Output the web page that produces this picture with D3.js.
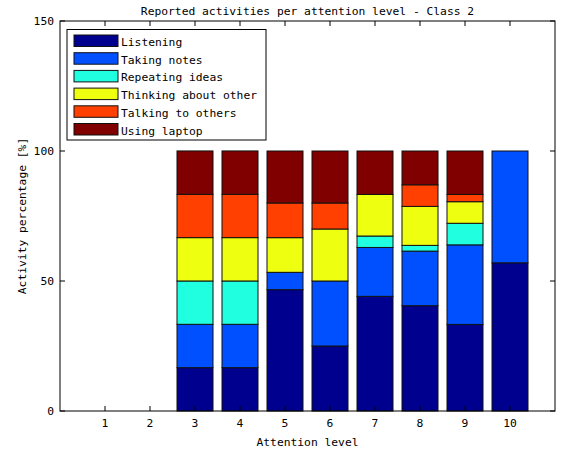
<!DOCTYPE html>
<html>
<head>
<meta charset="utf-8">
<script src="https://cdn.jsdelivr.net/npm/d3@7"></script>
<style>
  html, body { margin: 0; padding: 0; background: #fff; }
  text { font-family: "DejaVu Sans Mono", "Liberation Mono", monospace; font-size: 11.3px; fill: #000; }
</style>
</head>
<body>
<svg id="chart" width="565" height="455"></svg>
<script>
const categories = [1, 2, 3, 4, 5, 6, 7, 8, 9, 10];
const seriesNames = ["Listening", "Taking notes", "Repeating ideas", "Thinking about other", "Talking to others", "Using laptop"];
const listening   = [0, 0, 16.67, 16.67, 46.67, 25, 44.1, 40.5, 33.3, 57];
const takingNotes = [0, 0, 16.67, 16.67, 6.67, 25, 18.8, 21, 30.6, 43];
const repeating   = [0, 0, 16.67, 16.67, 0, 0, 4.4, 2.2, 8.3, 0];
const thinking    = [0, 0, 16.67, 16.67, 13.33, 20, 16.0, 15, 8.3, 0];
const talking     = [0, 0, 16.67, 16.67, 13.33, 10, 0, 8.3, 2.8, 0];
const laptop      = [0, 0, 16.67, 16.67, 20, 20, 16.7, 13, 16.7, 0];
const colors = ["#00008f", "#0050ff", "#20ffdf", "#efff10", "#ff4000", "#800000"];
const yTicks = [0, 50, 100, 150];
const title = "Reported activities per attention level - Class 2";
const xLabel = "Attention level";
const yLabel = "Activity percentage [%]";

const series = [listening, takingNotes, repeating, thinking, talking, laptop];
const table = categories.map((c, i) => {
  const row = { cat: c };
  seriesNames.forEach((n, k) => row[n] = series[k][i]);
  return row;
});

const svg = d3.select("#chart");
const L = 60, R = 555, T = 21, B = 411;
const x = d3.scaleLinear().domain([0, 11]).range([L, R]);
const y = d3.scaleLinear().domain([0, 150]).range([B, T]);
const barW = (x(0.8) - x(0));

svg.append("rect").attr("x", 0).attr("y", 0).attr("width", 565).attr("height", 455).attr("fill", "#fff");

const stack = d3.stack().keys(seriesNames)(table);
stack.forEach((layer, k) => {
  svg.append("g").selectAll("rect")
    .data(layer.filter(d => d[1] - d[0] > 0))
    .join("rect")
    .attr("x", d => x(d.data.cat) - barW / 2)
    .attr("y", d => y(d[1]))
    .attr("width", barW)
    .attr("height", d => y(d[0]) - y(d[1]))
    .attr("fill", colors[k])
    .attr("stroke", "#111")
    .attr("stroke-width", 1);
});

// axes box
svg.append("rect").attr("x", L).attr("y", T).attr("width", R - L).attr("height", B - T)
  .attr("fill", "none").attr("stroke", "#000").attr("stroke-width", 1);

const tl = 5;
// x ticks (bottom, top) inward
const gx = svg.append("g");
categories.forEach(c => {
  gx.append("line").attr("x1", x(c)).attr("x2", x(c)).attr("y1", B).attr("y2", B - tl).attr("stroke", "#000");
  gx.append("line").attr("x1", x(c)).attr("x2", x(c)).attr("y1", T).attr("y2", T + tl).attr("stroke", "#000");
});
gx.selectAll("text.xt").data(categories).join("text")
  .attr("class", "xt")
  .attr("x", d => x(d)).attr("y", 427)
  .attr("text-anchor", "middle").text(d => d);

// y ticks (left, right)
const gy = svg.append("g");
yTicks.forEach(t => {
  gy.append("line").attr("x1", L).attr("x2", L + tl).attr("y1", y(t)).attr("y2", y(t)).attr("stroke", "#000");
  gy.append("line").attr("x1", R).attr("x2", R - tl).attr("y1", y(t)).attr("y2", y(t)).attr("stroke", "#000");
});
gy.selectAll("text.yt").data(yTicks).join("text")
  .attr("class", "yt")
  .attr("x", L - 6).attr("y", d => y(d) + 4)
  .attr("text-anchor", "end").text(d => d);

// title & labels
svg.append("text").attr("x", (L + R) / 2).attr("y", 15).attr("text-anchor", "middle").text(title);
svg.append("text").attr("x", (L + R) / 2).attr("y", 446).attr("text-anchor", "middle").text(xLabel);
svg.append("text").attr("transform", `translate(26,${(T + B) / 2}) rotate(-90)`)
  .attr("text-anchor", "middle").text(yLabel);

// legend
const lg = svg.append("g");
lg.append("rect").attr("x", 67).attr("y", 29.5).attr("width", 199).attr("height", 110.5)
  .attr("fill", "#fff").attr("stroke", "#000");
seriesNames.forEach((n, k) => {
  const ry = 35 + k * 17.7;
  lg.append("rect").attr("x", 74).attr("y", ry).attr("width", 44).attr("height", 11.5)
    .attr("fill", colors[k]).attr("stroke", "#111");
  lg.append("text").attr("x", 121).attr("y", ry + 11).text(n);
});
</script>
</body>
</html>
